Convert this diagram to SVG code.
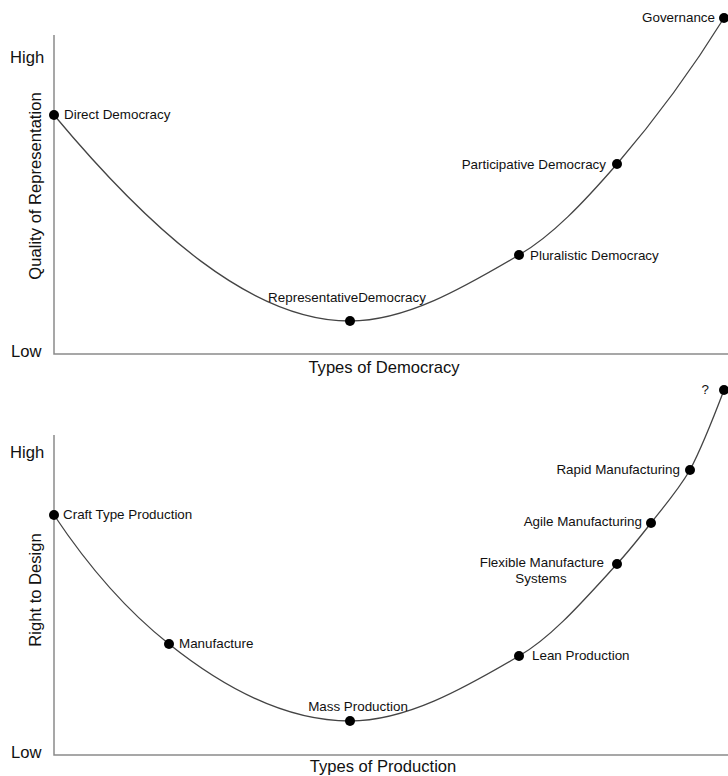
<svg xmlns="http://www.w3.org/2000/svg" width="728" height="776" viewBox="0 0 728 776">
<style>
text{font-family:"Liberation Sans",Arial,sans-serif;fill:#111}
.lbl{font-size:13.4px}
.ax{font-size:16.6px}
.axis{stroke:#8a8a8a;stroke-width:1.5;fill:none}
.curve{stroke:#444;stroke-width:1.3;fill:none}
.dot{fill:#000}
</style>
<rect width="728" height="776" fill="#fff"/>
<g id="chart-top-axes">
<path class="axis" d="M54,35 V354 H728"/>
<text class="ax" x="10" y="63">High</text>
<text class="ax" x="11" y="357">Low</text>
<text class="ax" transform="translate(41,186) rotate(-90)" text-anchor="middle">Quality of Representation</text>
<text class="ax" x="384" y="373" text-anchor="middle">Types of Democracy</text>
</g>
<g id="chart-bottom-axes">
<path class="axis" d="M54,435 V755 H728"/>
<text class="ax" x="10" y="458">High</text>
<text class="ax" x="11" y="758">Low</text>
<text class="ax" transform="translate(41,590) rotate(-90)" text-anchor="middle">Right to Design</text>
<text class="ax" x="383" y="772" text-anchor="middle">Types of Production</text>
</g>
<g id="connectors">
<path class="curve" d="M54,115 C150,230 251,321 350,321 C406,321 463,288 519,255 C552,236 584,202 617,164 C653,122 688,76 724,18"/>
<path class="curve" d="M54,515 C92,572 131,614 169,644 C229,692 290,721 350,721 C406,721 463,689 519,656 C552,637 584,600 617,564 C628,552 640,537 651,523 C664,506 677,492 690,470 C701,449 713,419 724,390"/>
</g>
<g id="direct-democracy"><circle class="dot" cx="54" cy="115" r="5"/><text class="lbl" x="64" y="119">Direct Democracy</text></g>
<g id="representative-democracy"><circle class="dot" cx="350" cy="321" r="5"/><text class="lbl" x="347" y="302" text-anchor="middle">RepresentativeDemocracy</text></g>
<g id="pluralistic-democracy"><circle class="dot" cx="519" cy="255" r="5"/><text class="lbl" x="530" y="260">Pluralistic Democracy</text></g>
<g id="participative-democracy"><circle class="dot" cx="617" cy="164" r="5"/><text class="lbl" x="606" y="169" text-anchor="end">Participative Democracy</text></g>
<g id="governance"><circle class="dot" cx="724" cy="18" r="5"/><text class="lbl" x="715" y="22" text-anchor="end">Governance</text></g>
<g id="craft-type-production"><circle class="dot" cx="54" cy="515" r="5"/><text class="lbl" x="63" y="519">Craft Type Production</text></g>
<g id="manufacture"><circle class="dot" cx="169" cy="644" r="5"/><text class="lbl" x="179" y="648">Manufacture</text></g>
<g id="mass-production"><circle class="dot" cx="350" cy="721" r="5"/><text class="lbl" x="358" y="711" text-anchor="middle">Mass Production</text></g>
<g id="lean-production"><circle class="dot" cx="519" cy="656" r="5"/><text class="lbl" x="532" y="660">Lean Production</text></g>
<g id="flexible-manufacture-systems"><circle class="dot" cx="617" cy="564" r="5"/><text class="lbl" x="604" y="567" text-anchor="end">Flexible Manufacture</text><text class="lbl" x="541" y="583" text-anchor="middle">Systems</text></g>
<g id="agile-manufacturing"><circle class="dot" cx="651" cy="523" r="5"/><text class="lbl" x="642" y="526" text-anchor="end">Agile Manufacturing</text></g>
<g id="rapid-manufacturing"><circle class="dot" cx="690" cy="470" r="5"/><text class="lbl" x="680" y="474" text-anchor="end">Rapid Manufacturing</text></g>
<g id="unknown"><circle class="dot" cx="724" cy="390" r="5"/><text class="lbl" x="709" y="394" text-anchor="end">?</text></g>
</svg>
